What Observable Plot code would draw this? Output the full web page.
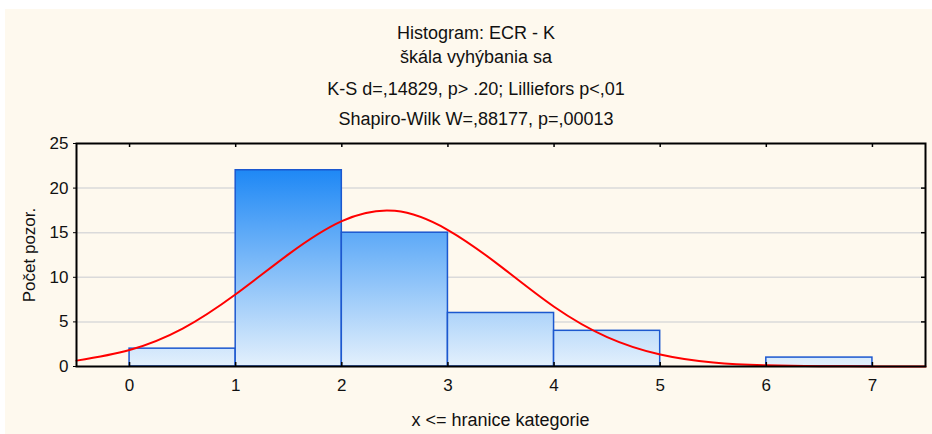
<!DOCTYPE html>
<html><head><meta charset="utf-8">
<script src="https://cdn.jsdelivr.net/npm/d3@7"></script>
<script src="https://cdn.jsdelivr.net/npm/@observablehq/plot@0.6"></script>
<style>
body{margin:0;background:#fff;}
#wrap{position:relative;width:932px;height:434px;background:#fff;overflow:hidden;font-family:"Liberation Sans",Arial,sans-serif;color:#111;}
#panel{position:absolute;left:5px;top:9px;right:0;bottom:0;background:#FEF9EE;}
.t{position:absolute;left:0;width:952px;text-align:center;font-size:18px;line-height:20px;white-space:pre;}
#chart{position:absolute;left:0;top:0;}
#ylab{position:absolute;left:30px;top:255px;font-size:17px;white-space:pre;transform:translate(-50%,-50%) rotate(-90deg);}
#xlab{position:absolute;left:0;width:1001px;top:410px;text-align:center;font-size:18px;line-height:20px;white-space:pre;}
</style></head><body>
<div id="wrap"><div id="panel"></div>
<div class="t" style="top:23px">Histogram: ECR - K</div>
<div class="t" style="top:47px">škála vyhýbania sa</div>
<div class="t" style="top:79px">K-S d=,14829, p&gt; .20; Lilliefors p&lt;,01</div>
<div class="t" style="top:109px">Shapiro-Wilk W=,88177, p=,00013</div>
<div id="chart"></div>
<div id="ylab">Počet pozor.</div>
<div id="xlab">x &lt;= hranice kategorie</div>
</div>
<script>
const binStart = [0, 1, 2, 3, 4, 5, 6];
const binEnd   = [1, 2, 3, 4, 5, 6, 7];
const counts   = [2, 22, 15, 6, 4, 0, 1];
const xTicks = [0, 1, 2, 3, 4, 5, 6, 7];
const yTicks = [0, 5, 10, 15, 20, 25];
const curveX = [-0.5, 0, 0.5, 1, 1.5, 2, 2.5, 3, 3.5, 4, 4.5, 5, 5.5, 6, 6.5, 7, 7.5];
const curveY = [0.66, 1.85, 4.25, 8.1, 12.6, 16.3, 17.45, 15.3, 11.2, 6.7, 3.3, 1.35, 0.45, 0.13, 0.03, 0.01, 0];

const bars = counts.map((c, i) => ({x1: binStart[i], x2: binEnd[i], y: c})).filter(d => d.y > 0);
const curve = curveX.map((x, i) => ({x, y: curveY[i]}));

const W = 932, H = 434, mT = 143, mB = 68, mL = 76, mR = 7;
const innerH = H - mT - mB, innerW = W - mL - mR;

const chart = Plot.plot({
  width: W, height: H, marginTop: mT, marginBottom: mB, marginLeft: mL, marginRight: mR,
  style: {background: "transparent", fontFamily: "Liberation Sans, Arial, sans-serif", fontSize: "17px", color: "#111"},
  x: {domain: [-0.5, 7.5]},
  y: {domain: [0, 25]},
  marks: [
    Plot.ruleY([5, 10, 15, 20], {y: d => d, stroke: "#dadada", strokeWidth: 1.5}),
    Plot.rect(bars, {x1: "x1", x2: "x2", y1: d => 0, y2: "y", fill: "url(#barGrad)", stroke: "#1c58cf", strokeWidth: 1.5}),
    Plot.line(curve, {x: "x", y: "y", stroke: "#ff0000", strokeWidth: 2, curve: "natural"}),
    Plot.frame({stroke: "#000", strokeWidth: 2}),
    Plot.axisX(xTicks, {anchor: "bottom", tickSize: 0, tickPadding: 12, label: null, fontSize: 17}),
    Plot.axisY(yTicks, {anchor: "left", tickSize: 3, tickPadding: 5, label: null, fontSize: 17, stroke: "#000"}),
    Plot.tickX(xTicks, {x: d => d, insetTop: innerH - 4, stroke: "#000", strokeWidth: 1.5}),
    Plot.tickX(xTicks, {x: d => d, insetBottom: innerH - 4, stroke: "#000", strokeWidth: 1.5}),
    Plot.tickY(yTicks.slice(1, -1), {y: d => d, insetLeft: innerW - 4, stroke: "#000", strokeWidth: 1.5})
  ]
});

const ys = chart.scale("y");
const yBot = ys.apply(0), yTop = ys.apply(22);
const ns = "http://www.w3.org/2000/svg";
const defs = document.createElementNS(ns, "defs");
defs.innerHTML = `<linearGradient id="barGrad" gradientUnits="userSpaceOnUse" x1="0" x2="0" y1="${yBot}" y2="${yTop}"><stop offset="0" stop-color="#E3F0FC"/><stop offset="1" stop-color="#1E88F5"/></linearGradient>`;
chart.insertBefore(defs, chart.firstChild);
document.getElementById("chart").appendChild(chart);
</script>
</body></html>
